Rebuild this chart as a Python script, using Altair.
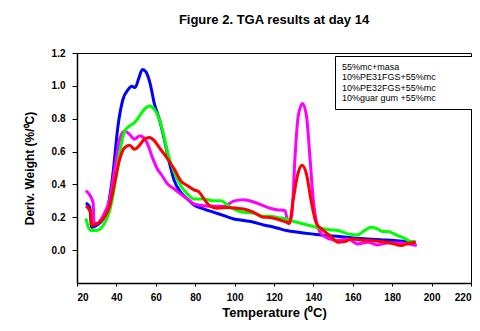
import altair as alt
import pandas as pd

names = ["55%mc+masa", "10%PE31FGS+55%mc", "10%PE32FGS+55%mc", "10%guar gum +55%mc"]
colors = ["#0000FF", "#FF00FF", "#00FF00", "#FF0000"]

# 55%mc+masa (blue)
x_b = [24.5, 26.5, 27.4, 29.9, 33.3, 35.8, 38.3, 40.8, 43.3, 45.8, 47.8, 49.5, 51.2, 53.2, 55.0,
       57.0, 59.3, 61.7, 64.3, 66.9, 69.4, 72.7, 76.1, 79.4, 84.5, 89.5, 94.6, 99.6, 104.6, 109.7,
       114.7, 118.1, 122.0, 126.4, 130.5, 134.9, 139.0, 143.3, 147.5, 151.6, 157.5, 162.5, 167.6,
       174.0, 181.0, 186.0, 191.9]
y_b = [0.287, 0.26, 0.14, 0.15, 0.19, 0.27, 0.47, 0.755, 0.917, 0.975, 0.998, 0.99, 1.04, 1.10, 1.085,
       1.02, 0.89, 0.80, 0.675, 0.533, 0.422, 0.351, 0.311, 0.275, 0.25, 0.23, 0.21, 0.19, 0.18, 0.17,
       0.153, 0.145, 0.133, 0.119, 0.112, 0.105, 0.099, 0.093, 0.087, 0.085, 0.078, 0.072, 0.068,
       0.063, 0.058, 0.053, 0.048]

# 10%PE31FGS+55%mc (magenta)
x_m = [24.5, 28.2, 28.6, 29.9, 33.3, 36.6, 39.1, 41.7, 44.2, 46.7, 49.2, 51.7, 53.4, 55.9, 58.4,
       61.0, 62.7, 66.0, 69.4, 72.7, 76.1, 79.4, 84.5, 89.5, 94.6, 97.5, 99.6, 104.6, 109.7, 114.7,
       118.0, 121.4, 125.6, 127.3, 129.0, 130.7, 132.3, 134.5, 136.5, 138.2, 139.9, 141.6, 144.1,
       148.3, 152.5, 157.5, 162.6, 167.6, 172.6, 177.7, 184.4, 192.5]
y_m = [0.362, 0.29, 0.17, 0.16, 0.21, 0.311, 0.493, 0.675, 0.725, 0.705, 0.675, 0.695, 0.69, 0.644, 0.56,
       0.49, 0.462, 0.402, 0.372, 0.341, 0.311, 0.281, 0.27, 0.267, 0.267, 0.285, 0.298, 0.307, 0.293, 0.27,
       0.255, 0.246, 0.24, 0.16, 0.21, 0.573, 0.816, 0.893, 0.816, 0.573, 0.311, 0.17, 0.099,
       0.068, 0.058, 0.068, 0.038, 0.048, 0.032, 0.044, 0.044, 0.028]

# 10%PE32FGS+55%mc (green)
x_g = [24.5, 26.9, 29.9, 33.3, 36.6, 39.1, 41.7, 44.2, 46.7, 49.2, 51.7, 54.2, 56.8, 59.3, 61.8,
       64.0, 66.0, 69.4, 72.7, 76.1, 79.4, 84.5, 89.5, 92.9, 97.9, 103.0, 109.7, 114.7, 118.1, 122.0,
       126.4, 130.0, 134.9, 139.0, 143.3, 147.5, 152.5, 157.5, 162.6, 165.9, 169.3, 172.6, 175.2,
       177.7, 182.7, 186.5, 189.4, 191.9]
y_g = [0.194, 0.12, 0.12, 0.15, 0.24, 0.39, 0.594, 0.725, 0.756, 0.776, 0.816, 0.857, 0.877, 0.857, 0.796,
       0.70, 0.594, 0.473, 0.392, 0.341, 0.311, 0.311, 0.30, 0.30, 0.26, 0.234, 0.225, 0.206, 0.206, 0.198,
       0.19, 0.175, 0.16, 0.147, 0.133, 0.125, 0.119, 0.099, 0.093, 0.119, 0.139, 0.129, 0.113,
       0.113, 0.089, 0.07, 0.052, 0.05]

# 10%guar gum +55%mc (red)
x_r = [24.5, 26.9, 27.4, 29.9, 33.3, 36.6, 39.1, 41.7, 44.2, 46.7, 49.2, 51.7, 54.2, 56.8, 59.3,
       61.8, 64.3, 66.8, 69.4, 72.7, 76.1, 79.4, 81.9, 84.5, 87.8, 91.2, 96.2, 101.3, 104.6, 109.7,
       114.7, 116.4, 121.4, 126.4, 127.8, 129.8, 132.3, 134.3, 136.5, 139.0, 141.6, 144.1, 148.3,
       152.5, 155.8, 159.2, 164.2, 169.3, 174.3, 179.3, 184.5, 188.0, 191.9]
y_r = [0.27, 0.23, 0.15, 0.16, 0.19, 0.27, 0.41, 0.554, 0.624, 0.638, 0.614, 0.638, 0.675, 0.685, 0.665,
       0.624, 0.584, 0.54, 0.493, 0.422, 0.392, 0.367, 0.355, 0.311, 0.267, 0.255, 0.26, 0.255, 0.25, 0.23,
       0.2, 0.2, 0.19, 0.17, 0.165, 0.311, 0.473, 0.517, 0.462, 0.291, 0.16, 0.129, 0.089,
       0.048, 0.052, 0.068, 0.062, 0.058, 0.052, 0.044, 0.028, 0.04, 0.048]

x_ticks = [20, 40, 60, 80, 100, 120, 140, 160, 180, 200, 220]
y_ticks = [0.0, 0.2, 0.4, 0.6, 0.8, 1.0, 1.2]

rows = []
for name, xs, ys in zip(names, [x_b, x_m, x_g, x_r], [y_b, y_m, y_g, y_r]):
    for i, (xv, yv) in enumerate(zip(xs, ys)):
        rows.append({"series": name, "temp": xv, "deriv": yv, "idx": i})
df = pd.DataFrame(rows)

FONT = "Liberation Sans"

chart = alt.Chart(df).mark_line(strokeWidth=3, interpolate="monotone").encode(
    x=alt.X("temp:Q", scale=alt.Scale(domain=[20, 220], nice=False, zero=False),
            axis=alt.Axis(values=x_ticks, title="Temperature (⁰C)", tickSize=3, labelPadding=6,
                          titlePadding=4)),
    y=alt.Y("deriv:Q", scale=alt.Scale(domain=[-0.2, 1.2], nice=False, zero=False),
            axis=alt.Axis(values=y_ticks, format=".1f", title="Deriv. Weight (%/⁰C)", tickSize=5,
                          labelPadding=7, titlePadding=15)),
    color=alt.Color("series:N", scale=alt.Scale(domain=names, range=colors),
                    legend=alt.Legend(orient="none", legendX=258, legendY=3,
                                      title="mmmm", titleOrient="right", titleFontSize=9,
                                      titleOpacity=0, titlePadding=0,
                                      padding=6, strokeColor="black", fillColor="white",
                                      labelFont=FONT, labelFontSize=9, labelColor="black",
                                      symbolSize=0, symbolStrokeWidth=0, symbolOpacity=0,
                                      labelOffset={"expr": "-8"}, rowPadding=0.5,
                                      symbolType="stroke")),
    detail="series:N",
    order="idx:Q",
).properties(
    width=394,
    height=230,
    background="white",
    title=alt.TitleParams("Figure 2. TGA results at day 14", font=FONT, fontSize=13,
                          fontWeight="bold", anchor="middle", frame="group", offset=21,
                          color="black"),
    padding={"left": 69, "top": 45, "right": 1, "bottom": 37},
    autosize=alt.AutoSizeParams(type="none"),
).configure_view(
    stroke="black", strokeWidth=1
).configure_axis(
    grid=False, domainColor="black", tickColor="black", domainWidth=1.5, tickWidth=1,
    labelFont=FONT, labelFontSize=10, labelFontWeight="bold", labelColor="black",
    titleFont=FONT, titleFontWeight="bold", titleColor="black",
).configure_axisX(
    titleFontSize=13
).configure_axisY(
    titleFontSize=12
)

chart.save("out.html", embed_options={"renderer": "svg", "actions": False})
